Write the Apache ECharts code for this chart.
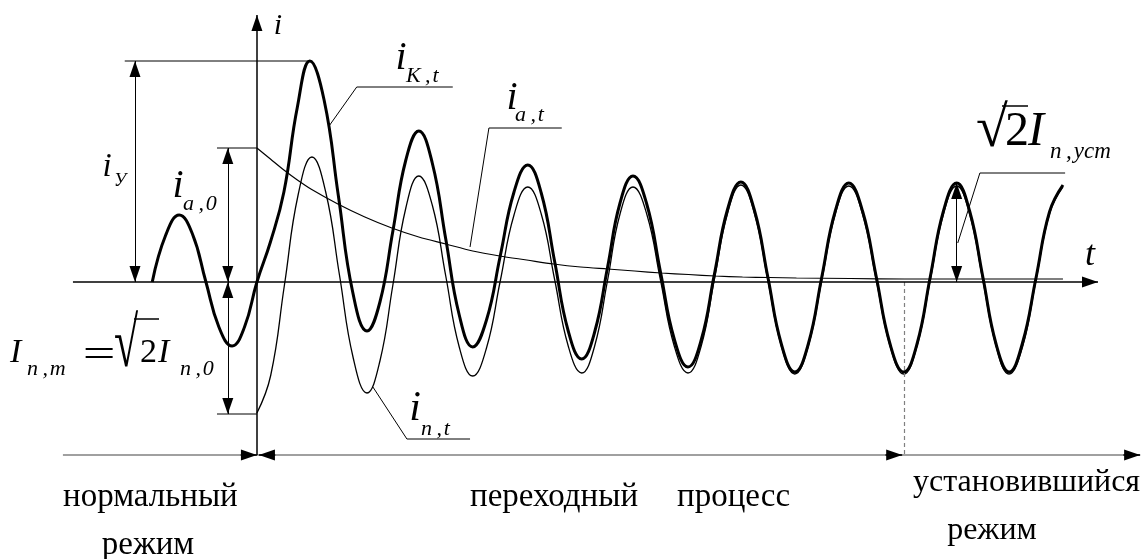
<!DOCTYPE html>
<html>
<head>
<meta charset="utf-8">
<title>Ток короткого замыкания</title>
<script src="https://cdn.jsdelivr.net/npm/echarts@6.0.0/dist/echarts.min.js"></script>
<style>
html, body { margin: 0; padding: 0; background: #fff; }
#chart { width: 1145px; height: 559px; }
</style>
</head>
<body>
<div id="chart"></div>
<script>
// t - время, мс (период 20 мс), i - ток в условных единицах

// полный ток i_K,t (нормальный режим, затем переходный процесс)
const iK = [
  [-19.4, 0], [-16.9, 4.7], [-14.4, 6.7], [-11.95, 4.8], [-9.5, 0.1], [-7.05, -4.5], [-4.6, -6.4], [-2.3, -4.5],
  [0, 0], [2.5, 4.0], [5, 9.0], [7.5, 17.5], [9.8, 22.1],
  [12.45, 18.2], [15.1, 8.6], [17.75, -1.0], [20.4, -4.9],
  [22.8, -2.0], [25.2, 5.1], [27.6, 12.2], [30.0, 15.1],
  [32.5, 11.9], [35.0, 4.3], [37.5, -3.3], [40.0, -6.5],
  [42.55, -3.8], [45.1, 2.6], [47.65, 9.0], [50.2, 11.7],
  [52.7, 8.9], [55.2, 2.0], [57.7, -4.9], [60.2, -7.7],
  [62.6, -5.0], [65.0, 1.5], [67.3, 7.9], [69.7, 10.6],
  [72.25, 7.8], [74.8, 1.0], [77.35, -5.7], [79.9, -8.5],
  [82.35, -5.8], [84.8, 0.8], [87.25, 7.3], [89.7, 10.0],
  [92.2, 7.2], [94.7, 0.5], [97.2, -6.2], [99.7, -9.0],
  [102.2, -6.2], [104.7, 0.5], [107.2, 7.1], [109.7, 9.9],
  [112.25, 7.1], [114.8, 0.5], [117.35, -6.2], [119.9, -9.0],
  [122.35, -6.2], [124.8, 0.5], [127.25, 7.1], [129.7, 9.9],
  [132.1, 7.1], [134.55, 0.5], [137.0, -6.2], [139.4, -9.0],
  [141.9, -6.1], [144.4, 0.4], [146.9, 7.0], [149.4, 9.7]
]

// периодическая составляющая i_n,t
const iN = [
  [0, -13.1], [2.55, -9.35], [5.1, -0.3], [7.65, 8.75], [10.2, 12.5],
  [12.75, 9.0], [15.3, 0.7], [17.85, -7.6], [20.4, -11.1],
  [22.8, -7.9], [25.2, -0.3], [27.6, 7.4], [30.0, 10.6],
  [32.5, 7.7], [35.0, 0.6], [37.5, -6.5], [40.0, -9.4],
  [42.55, -6.6], [45.1, 0.1], [47.65, 6.7], [50.2, 9.5],
  [52.7, 6.8], [55.2, 0.2], [57.7, -6.4], [60.2, -9.1],
  [62.6, -6.4], [65.0, 0.2], [67.3, 6.8], [69.7, 9.5],
  [72.25, 6.8], [74.8, 0.2], [77.35, -6.4], [79.9, -9.1],
  [82.35, -6.4], [84.8, 0.3], [87.25, 6.9], [89.7, 9.7],
  [92.2, 6.9], [94.7, 0.2], [97.2, -6.4], [99.7, -9.2],
  [102.2, -6.4], [104.7, 0.2], [107.2, 6.8], [109.7, 9.6],
  [112.25, 6.8], [114.8, 0.2], [117.35, -6.4], [119.9, -9.2],
  [122.35, -6.4], [124.8, 0.2], [127.25, 6.8], [129.7, 9.6],
  [132.1, 6.8], [134.55, 0.2], [137.0, -6.4], [139.4, -9.2],
  [141.9, -6.5], [144.4, 0.2], [146.9, 6.8], [149.4, 9.5]
]

// апериодическая составляющая i_a,t
const iA = [
  [0, 13.4], [2.5, 12.3], [5, 11.2], [7.5, 10.2], [10, 9.3], [15, 7.8], [20, 6.5], [25, 5.4],
  [30, 4.5], [35, 3.8], [40, 3.1], [45, 2.6], [50, 2.2], [55, 1.8], [60, 1.5], [65, 1.3],
  [70, 1.1], [75, 0.9], [80, 0.75], [85, 0.6], [90, 0.5], [95, 0.45], [100, 0.4], [110, 0.35],
  [120, 0.3], [149.4, 0.3]
]

// оси t и i
const tAxis = [[-34.1, 0], [155.9, 0]]
const iAxis = [[0, -17.3], [0, 26.7]]

// размерные стрелки: i_У, i_a,0, I_n,m, √2 I_n,уст
const dimArrows = [
  [[-22.6, 22.1], [-22.6, 0]],
  [[-5.4, 13.4], [-5.4, 0]],
  [[-5.4, 0], [-5.4, -13.2]],
  [[129.7, 9.9], [129.7, 0]]
]

// выносные линии
const extLines = [
  [[-24.5, 22.1], [9.8, 22.1]],
  [[-7.4, 13.4], [0, 13.4]],
  [[-7.4, -13.2], [0, -13.2]]
]

// линии-выноски к подписям i_K,t / i_a,t / i_n,t / √2 I_n,уст
const leaders = [
  [[13.5, 15.7], [18.5, 19.5], [36.3, 19.5]],
  [[39.5, 3.5], [43.0, 15.4], [56.5, 15.4]],
  [[21.5, -10.5], [27.8, -15.7], [39.5, -15.7]],
  [[129.9, 3.9], [134.0, 10.9], [149.8, 10.9]]
]

// нижняя шкала режимов
const modeLine = [[-35.96, -17.3], [163.7, -17.3]]
const modeArrows = [
  [[-3, -17.3], [0, -17.3]],
  [[3.4, -17.3], [0.37, -17.3]],
  [[116.5, -17.3], [119.6, -17.3]],
  [[160.6, -17.3], [163.7, -17.3]]
]
const steadyCut = [[119.9, 0], [119.9, -17.3]]

const serif = '"Liberation Serif", "Times New Roman", serif'
const arrowSize = [11, 16]

function segs(list, symbols) {
  return list.map(s => [
    { coord: s[0], symbol: symbols[0], symbolSize: arrowSize, symbolOffset: [0, '50%'] },
    { coord: s[1], symbol: symbols[1], symbolSize: arrowSize, symbolOffset: [0, '50%'] }
  ])
}

function tx(x, y, text, size, italic, align, extra) {
  const el = {
    type: 'text',
    x: x,
    y: y,
    silent: true,
    style: {
      text: text,
      font: (italic ? 'italic ' : '') + size + 'px ' + serif,
      fill: '#000',
      align: align || 'left',
      verticalAlign: 'middle'
    }
  }
  return Object.assign(el, extra || {})
}

// черта над подкоренным выражением
function bar(x1, x2, y) {
  return { type: 'line', silent: true, shape: { x1: x1, y1: y, x2: x2, y2: y }, style: { stroke: '#000', lineWidth: 1.5 } }
}

// маркеры-линии, стрелки в виде треугольников
function marks(list, color, width, symbols, dashed) {
  return {
    type: 'line',
    data: [],
    silent: true,
    clip: false,
    markLine: {
      silent: true,
      animation: false,
      symbol: 'none',
      label: { show: false },
      emphasis: { disabled: true },
      lineStyle: { color: color, width: width, type: dashed ? [4, 3] : 'solid' },
      data: segs(list, symbols)
    }
  }
}

const sub = '\u2009,\u200A'

const option = {
  backgroundColor: '#fff',
  animation: false,
  grid: { left: 60, right: 3, top: 10, bottom: 99 },
  xAxis: { type: 'value', min: -36.5, max: 164.05, show: false },
  yAxis: { type: 'value', min: -17.8, max: 27.2, show: false },
  series: [
    { type: 'line', data: iA, showSymbol: false, smooth: 0.3, silent: true, clip: false,
      lineStyle: { color: '#000', width: 1.2 } },
    { type: 'line', data: iN, showSymbol: false, smooth: 0.45, silent: true, clip: false,
      lineStyle: { color: '#000', width: 1.3 } },
    { type: 'line', data: iK, showSymbol: false, smooth: 0.45, silent: true, clip: false,
      lineStyle: { color: '#000', width: 3 } },
    { type: 'lines', coordinateSystem: 'cartesian2d', polyline: true, silent: true, clip: false,
      data: leaders.concat(extLines).map(c => ({ coords: c })),
      lineStyle: { color: '#000', width: 1, opacity: 1 } },
    marks([modeLine], '#808080', 1.5, ['none', 'none']),
    marks([steadyCut], '#808080', 1.2, ['none', 'none'], true),
    marks(modeArrows, '#000', 1.5, ['none', 'triangle']),
    marks([tAxis, iAxis], '#000', 1.5, ['none', 'triangle']),
    marks(dimArrows, '#000', 1, ['triangle', 'triangle'])
  ],
  graphic: [
    tx(278, 26, 'i', 30, true, 'center'),
    tx(1090, 256, 't', 36, true, 'center'),
    tx(401, 58, 'i', 40, true, 'center'), tx(406, 76, 'K' + sub + 't', 22, true),
    tx(512, 98, 'i', 40, true, 'center'), tx(515, 115, 'a' + sub + 't', 22, true),
    tx(107, 167, 'i', 33, true, 'center'), tx(114, 181, 'У', 18, true),
    tx(178, 186, 'i', 40, true, 'center'), tx(183, 204, 'a' + sub + '0', 22, true),
    // I_n,m = √2 I_n,0
    tx(10, 353, 'I', 34, true), tx(27, 369, 'n' + sub + 'm', 22, true),
    tx(99, 356, '=', 40, false, 'center', { scaleX: 1.45 }),
    tx(114, 347, '√', 44, false, 'left', { scaleY: 1.6 }),
    bar(134, 159, 319),
    tx(140, 353, '2', 34, false), tx(158, 353, 'I', 34, true),
    tx(180, 369, 'n' + sub + '0', 22, true),
    // √2 I_n,уст
    tx(976, 131, '√', 58, false),
    bar(1002, 1028, 106),
    tx(1005, 132, '2', 48, false), tx(1028, 132, 'I', 48, true),
    tx(1050, 152, 'n' + sub + 'уст', 23, true),
    tx(415, 409, 'i', 42, true, 'center'), tx(421, 429, 'n' + sub + 't', 22, true),
    // режимы
    tx(63, 497, 'нормальный', 33, false), tx(148, 545, 'режим', 33, false, 'center'),
    tx(470, 497, 'переходный', 33, false), tx(677, 497, 'процесс', 33, false),
    tx(913, 483, 'установившийся', 32, false), tx(992, 531, 'режим', 32, false, 'center')
  ]
}

const myChart = echarts.init(document.getElementById('chart'))
myChart.setOption(option)
</script>
</body>
</html>
